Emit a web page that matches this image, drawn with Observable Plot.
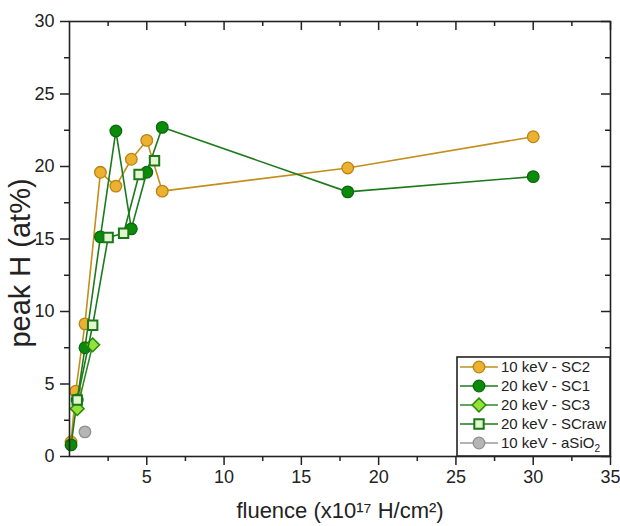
<!DOCTYPE html>
<html><head><meta charset="utf-8">
<script src="https://cdn.jsdelivr.net/npm/d3@7"></script>
<script src="https://cdn.jsdelivr.net/npm/@observablehq/plot@0.6"></script>
<style>
body{margin:0;background:#fff}
#chart{position:relative;width:620px;height:526px}
</style>
</head><body><div id="chart"></div>
<script>
// ---- data ----
const sc2Fluence = [0.1, 0.4, 1, 2, 3, 4, 5, 6, 18, 30];
const sc2Peak    = [1.0, 4.5, 9.15, 19.6, 18.65, 20.5, 21.8, 18.3, 19.9, 22.05];
const sc1Fluence = [0.1, 0.5, 1, 2, 3, 4, 5, 6, 18, 30];
const sc1Peak    = [0.8, 3.9, 7.5, 15.15, 22.45, 15.7, 19.6, 22.7, 18.25, 19.3];
const sc3Fluence = [0.5, 1.5];
const sc3Peak    = [3.3, 7.7];
const scrawFluence = [0.5, 1.5, 2.5, 3.5, 4.5, 5.5];
const scrawPeak    = [3.9, 9.05, 15.1, 15.4, 19.45, 20.4];
const asioFluence = [1];
const asioPeak    = [1.7];
const seriesNames = ["10 keV - SC2", "20 keV - SC1", "20 keV - SC3", "20 keV - SCraw", "10 keV - aSiO2"];
const xTickLabels = [5, 10, 15, 20, 25, 30, 35];
const xMinorTicks = [2.5, 7.5, 12.5, 17.5, 22.5, 27.5, 32.5];
const yTickLabels = [0, 5, 10, 15, 20, 25, 30];
const yMinorTicks = [2.5, 7.5, 12.5, 17.5, 22.5, 27.5];

const rows = (xs, ys) => xs.map((x, i) => ({x, y: ys[i]}));
const sc2 = rows(sc2Fluence, sc2Peak);
const sc1 = rows(sc1Fluence, sc1Peak);
const sc3 = rows(sc3Fluence, sc3Peak);
const scraw = rows(scrawFluence, scrawPeak);
const asio = rows(asioFluence, asioPeak);

const styles = [
  {line:"#c38f1c", fill:"#ecb131", stroke:"#b98414", symbol:"circle", r:5.8, sw:1.3},
  {line:"#1c7a1c", fill:"#0a8c0a", stroke:"#0b680b", symbol:"circle", r:5.8, sw:1.3},
  {line:"#2a8a2a", fill:"#93e23c", stroke:"#2b8a05", symbol:"diamond2", r:6.2, sw:1.5},
  {line:"#1c7a1c", fill:"#e3f5cc", stroke:"#1a761a", symbol:"square", r:5.3, sw:2},
  {line:"#999999", fill:"#b5b5b5", stroke:"#8f8f8f", symbol:"circle", r:5.8, sw:1.3}
];
const datasets = [sc2, sc1, sc3, scraw, asio];

const W = 620, H = 526, ML = 69, MR = 10, MT = 21, MB = 70;
const innerW = W - ML - MR, innerH = H - MT - MB;
const ink = "#222";
const FONT = "'Liberation Sans', Arial, sans-serif";

const seriesMarks = [];
datasets.forEach((d, i) => {
  const s = styles[i];
  if (d.length > 1) seriesMarks.push(Plot.line(d, {x:"x", y:"y", stroke:s.line, strokeWidth:1.6}));
  seriesMarks.push(Plot.dot(d, {x:"x", y:"y", symbol:s.symbol, r:s.r, fill:s.fill, stroke:s.stroke, strokeWidth:s.sw}));
});

const svg = Plot.plot({
  width: W, height: H,
  marginLeft: ML, marginRight: MR, marginTop: MT, marginBottom: MB,
  style: {fontFamily: FONT, color: ink, background: "#fff"},
  x: {domain: [0, 35], label: null},
  y: {domain: [0, 30], label: null},
  marks: [
    Plot.axisX(xTickLabels, {tickSize: 9, tickPadding: 5, fontSize: 18, strokeWidth: 1.5, stroke: ink, label: null}),
    Plot.axisX(xMinorTicks, {tickSize: 5, tickFormat: () => "", strokeWidth: 1.5, stroke: ink, label: null}),
    Plot.axisY(yTickLabels, {tickSize: 9, tickPadding: 6, fontSize: 18, strokeWidth: 1.5, stroke: ink, label: null}),
    Plot.axisY(yMinorTicks, {tickSize: 5, tickFormat: () => "", strokeWidth: 1.5, stroke: ink, label: null}),
    Plot.tickX(xTickLabels, {x: d => d, insetBottom: innerH - 9, stroke: ink, strokeWidth: 1.5}),
    Plot.tickX(xMinorTicks, {x: d => d, insetBottom: innerH - 5, stroke: ink, strokeWidth: 1.5}),
    Plot.tickY(yTickLabels, {y: d => d, insetLeft: innerW - 9, stroke: ink, strokeWidth: 1.5}),
    Plot.tickY(yMinorTicks, {y: d => d, insetLeft: innerW - 5, stroke: ink, strokeWidth: 1.5}),
    ...seriesMarks,
    Plot.frame({stroke: ink, strokeWidth: 1.6}),
    Plot.text(["fluence (x10¹⁷ H/cm²)"], {frameAnchor: "bottom", textAnchor: "middle", dy: 61, fontSize: 22, fill: ink}),
    Plot.text(["peak H (at%)"], {frameAnchor: "left", textAnchor: "middle", rotate: -90, dx: -49, dy: 24, fontSize: 29, fill: ink})
  ]
});
document.getElementById("chart").appendChild(svg);

// ---- legend ----
const lg = d3.select(svg).append("g").attr("font-family", FONT).attr("text-anchor", "start");
const bx = 457, by = 357, bw = W - MR - bx, bh = (H - MB) - by;
lg.append("rect").attr("x", bx).attr("y", by).attr("width", bw).attr("height", bh)
  .attr("fill", "#fff").attr("stroke", ink).attr("stroke-width", 1.6);
const symMap = {circle: d3.symbolCircle, square: d3.symbolSquare, diamond2: d3.symbolDiamond2};
seriesNames.forEach((name, i) => {
  const s = styles[i];
  const cy = by + 10 + i * 19;
  lg.append("line").attr("x1", bx + 3).attr("x2", bx + 41).attr("y1", cy).attr("y2", cy)
    .attr("stroke", s.line).attr("stroke-width", 1.6);
  lg.append("path").attr("d", d3.symbol(symMap[s.symbol], Math.PI * s.r * s.r)())
    .attr("transform", `translate(${bx + 22},${cy})`)
    .attr("fill", s.fill).attr("stroke", s.stroke).attr("stroke-width", s.sw);
  const t = lg.append("text").attr("x", bx + 44).attr("y", cy).attr("dy", "0.36em")
    .attr("font-size", 15).attr("fill", ink).attr("text-anchor", "start");
  if (name.endsWith("SiO2")) {
    t.append("tspan").text(name.slice(0, -1));
    t.append("tspan").attr("font-size", 10).attr("dy", 4).text("2");
  } else t.text(name);
});
</script>
</body></html>
